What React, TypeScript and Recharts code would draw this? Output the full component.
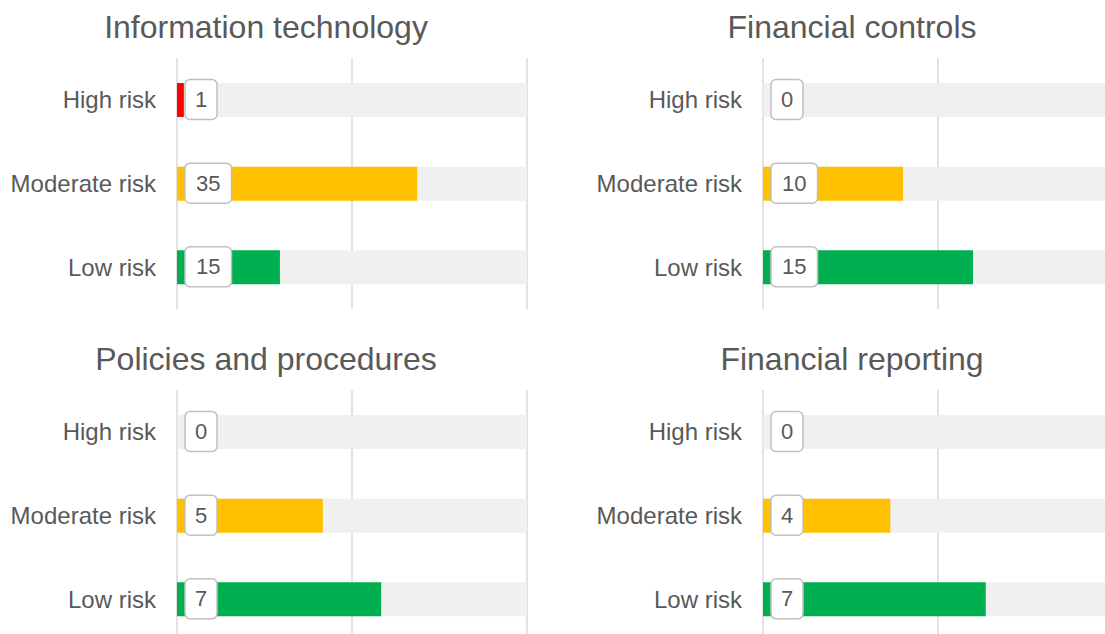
import React from 'react';
import { BarChart, Bar, XAxis, YAxis, CartesianGrid, Cell, LabelList } from 'recharts';

const riskLevels = ['High risk', 'Moderate risk', 'Low risk'];
const riskColors = ['#ff0000', '#ffc000', '#00b050'];

const itValues = [1, 35, 15];
const controlsValues = [0, 10, 15];
const policiesValues = [0, 5, 7];
const reportingValues = [0, 4, 7];

const panelTitles = ['Information technology', 'Financial controls', 'Policies and procedures', 'Financial reporting'];
const panelValues = [itValues, controlsValues, policiesValues, reportingValues];

const FONT = '"Liberation Sans", Arial, sans-serif';
const TEXT = '#595959';

// white rounded box with the count, sitting at the start of each bar
const ValueBox = (props: any) => {
    const vb = props.viewBox || {};
    const x = props.x ?? vb.x;
    const y = props.y ?? vb.y;
    const h = props.height ?? vb.height;
    const label = String(props.value);
    const w = 17.5 + 14.5 * label.length;
    const cy = y + h / 2 - 0.5;
    return (
        <g>
            <rect x={x + 8} y={cy - 20} width={w} height={40} rx={5} ry={5} fill="#ffffff" stroke="#c0c0c0" strokeWidth={1.5} />
            <text x={x + 8 + w / 2} y={cy} textAnchor="middle" dominantBaseline="central" fontSize={22} fontFamily={FONT} fill={TEXT}>
                {label}
            </text>
        </g>
    );
};

const RiskPanel = ({ title, values, left, top }: { title: string; values: number[]; left: number; top: number }) => {
    const data = riskLevels.map((name, i) => ({ name, value: values[i] }));
    const total = values.reduce((a, b) => a + b, 0);

    return (
        <div style={{ position: 'absolute', left, top, width: 532, height: 332 }}>
            <div style={{ position: 'absolute', top: 11, left: 0, width: 532, textAlign: 'center', fontSize: 32, lineHeight: '32px', color: TEXT, fontFamily: FONT }}>
                {title}
            </div>
            <BarChart layout="vertical" width={532} height={309} data={data} margin={{ top: 58, right: 5, bottom: 0, left: 0 }}>
                <CartesianGrid horizontal={false} stroke="#d9d9d9" strokeWidth={1.5} />
                <XAxis type="number" domain={[0, total]} ticks={[0, total / 2, total]} hide />
                <YAxis
                    type="category"
                    dataKey="name"
                    width={177}
                    tickLine={false}
                    axisLine={false}
                    tickSize={0}
                    tickMargin={21}
                    tick={{ fontSize: 24, fill: TEXT, fontFamily: FONT }}
                />
                {/* minPointSize keeps zero rows alive so their grey track and box still draw */}
                <Bar dataKey="value" barSize={34} minPointSize={0.01} background={{ fill: '#f0f0f0' }} isAnimationActive={false}>
                    {data.map((entry, index) => (
                        <Cell key={`cell-${index}`} fill={riskColors[index]} />
                    ))}
                    <LabelList dataKey="value" content={ValueBox} />
                </Bar>
            </BarChart>
        </div>
    );
};

export default function App() {
    return (
        <div style={{ position: 'absolute', left: 0, top: 0, width: 1105, height: 634, overflow: 'hidden', background: '#ffffff' }}>
            {panelTitles.map((t, i) => (
                <RiskPanel key={t} title={t} values={panelValues[i]} left={(i % 2) * 586} top={Math.floor(i / 2) * 332} />
            ))}
        </div>
    );
}
